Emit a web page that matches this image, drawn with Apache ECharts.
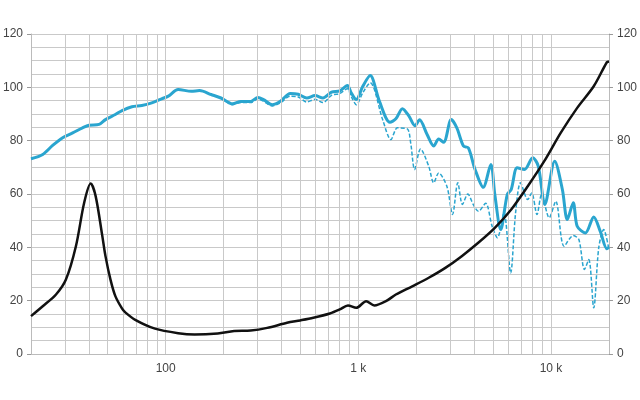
<!DOCTYPE html>
<html>
<head>
<meta charset="utf-8">
<script src="https://cdn.jsdelivr.net/npm/echarts@6/dist/echarts.min.js"></script>
<style>html,body{margin:0;padding:0;background:#fff}#c{width:640px;height:400px}</style>
</head>
<body>
<div id="c"></div>
<script>
// Frequencies (Hz) and levels
const solidFreq = [20,23,25.9,29.2,32.9,37,40,45.1,48.7,54.8,59.4,66.8,75.2,84.7,95.3,103.2,116.1,135.8,149.9,172.1,193.6,222.5,245.5,276.2,301.1,322.1,357,394,443.4,487.3,540.2,596,654.9,726,800.8,877,919.6,975.5,1055,1152,1286,1459,1566,1693,1832,1967,2078,2275,2462,2612,2773,3037,3245,3512,3726,4032,4449,4874,5110,5484,5930,6218,6676,7286,8036,8596,9291,10456,11457,12156,13049,13681,15096,16670,18022,19504,20000];
const solidVal  = [73.2,74.8,78.2,81.1,82.9,84.8,85.8,86.1,87.9,89.8,91.3,92.7,93.2,94.2,95.7,96.7,99.2,98.5,98.8,97.3,96,93.8,94.7,94.7,96.2,95.4,93.5,94.8,97.7,97.4,96,96.9,96,98.2,98.7,100.7,97.9,95.4,100.4,104.4,94.8,86.9,88.2,92,89.2,85.6,87.8,82.3,78,80.6,79.4,87.9,84.8,78,77.3,69.3,62.5,71.1,59.8,46.7,59.8,61.7,69.8,69.2,73.6,70.4,56.1,72.3,61.7,50.4,56.7,47.9,45.4,51.4,46,39.5,40];

const dashFreq = [20,23,25.9,29.2,32.9,37,40,45.1,48.7,54.8,59.4,66.8,75.2,84.7,95.3,103.2,116.1,135.8,149.9,172.1,193.6,222.5,245.5,276.2,301.1,322.1,357,394,443.4,487.3,540.2,596,654.9,726,800.8,877,919.6,975.5,1055,1152,1337,1476,1596,1796,1869,1960,2103,2320,2462,2612,2881,3083,3283,3470,3700,3952,4200,4580,4949,5269,5703,6174,6550,6948,7574,7941,8458,8937,9791,10585,11690,13049,13955,14917,15713,16670,17692,18769,20000];
const dashVal  = [73.2,74.8,78.2,81.1,82.9,84.8,85.8,86.1,87.9,89.8,91.3,92.7,93.2,94.2,95.7,96.7,99.2,98.5,98.8,97.3,96,93.5,94.3,94.3,95.6,94.8,93,94.2,96.7,96.4,94.5,95.5,94.3,97,97.7,99.5,96.5,93.5,98,101.7,87.9,80.4,84.8,84.4,79.2,69.2,76.9,70.4,64.2,67.9,62.9,52.3,64.2,56.1,60,56,53.5,56.5,47.9,43.6,52.9,30.4,52.9,64.2,57.9,60.4,52.3,59.8,51.1,57.3,40.4,44.4,42.9,31.7,35.4,17.3,39.8,46.7,39.2];

const impFreq = [20,23,26.96,30.35,34.2,37.75,40.8,43.3,46.9,48.7,51.7,54.8,59.4,61.7,69.5,88,116.1,141.3,186.3,226.7,276.2,336.5,426.4,498.9,584,711.6,800.8,883.4,975.5,1098,1211,1391,1566,1905,2320,2829,3442,4193,5110,6218,7574,9226,11230,13681,16670,19504,20000];
const impVal  = [14.2,17.9,22.3,27.9,40.4,56.7,63.9,59.2,44.2,36.7,27.9,21.7,17,15.6,12.8,9.5,7.8,7.3,7.7,8.6,8.8,9.8,11.7,12.6,13.6,15.2,16.7,18.2,17.3,19.8,18.2,19.8,22.3,25.4,28.6,32.3,36.7,41.7,47.3,54.2,62.9,72.3,82.9,92.3,100.4,109.4,109.7];

const gridFreqs = [30,40,50,60,70,80,90,100,200,300,400,500,600,700,800,900,1000,2000,3000,4000,5000,6000,7000,8000,9000,10000];
const xLabels = {100:'100',1000:'1 k',10000:'10 k'};
const yTicks = [0,20,40,60,80,100,120];

const zip = (a,b)=>a.map((f,i)=>[f,b[i]]);
const FONT = "'Liberation Sans Narrow','Liberation Sans',sans-serif";
const labelStyle = {color:'#444', fontSize:12, fontFamily:FONT};

const chart = echarts.init(document.getElementById('c'), null, {renderer:'canvas'});
chart.setOption({
  animation:false,
  backgroundColor:'#fff',
  grid:{left:28, right:28, top:34, bottom:46, containLabel:false},
  xAxis:{
    type:'log', logBase:10, min:20, max:20000,
    axisLine:{show:true, lineStyle:{color:'#bbb'}},
    axisTick:{show:false},
    splitLine:{show:false},
    axisLabel:Object.assign({margin:9, showMinLabel:false, showMaxLabel:false,
      formatter:v=>xLabels[Math.round(v)]||''}, labelStyle)
  },
  yAxis:[{
    type:'value', min:yTicks[0], max:yTicks[yTicks.length-1], interval:20, position:'left',
    axisLine:{show:true, lineStyle:{color:'#bbb'}},
    axisTick:{show:true, length:4, inside:false, lineStyle:{color:'#999'}},
    splitLine:{show:true, lineStyle:{color:'#c9c9c9', width:1}},
    minorTick:{show:false, splitNumber:4},
    minorSplitLine:{show:true, lineStyle:{color:'#c9c9c9', width:1}},
    axisLabel:Object.assign({margin:8}, labelStyle)
  },{
    type:'value', min:yTicks[0], max:yTicks[yTicks.length-1], interval:20, position:'right',
    axisLine:{show:true, lineStyle:{color:'#bbb'}},
    axisTick:{show:true, length:4, lineStyle:{color:'#999'}},
    splitLine:{show:false},
    axisLabel:Object.assign({margin:8}, labelStyle)
  }],
  series:[
    {type:'line', data:[], silent:true, z:1,
     markLine:{silent:true, symbol:['none','none'], label:{show:false}, animation:false,
       lineStyle:{color:'#c9c9c9', width:1, type:'solid'},
       emphasis:{disabled:true},
       data:gridFreqs.map(f=>({xAxis:f}))}},
    {type:'line', data:zip(dashFreq,dashVal), showSymbol:false, smooth:0.3, z:3,
     lineStyle:{color:'#2aa5cf', width:1.5, type:[4,2]}},
    {type:'line', data:zip(solidFreq,solidVal), showSymbol:false, smooth:0.3, z:4,
     lineStyle:{color:'#2aa5cf', width:3}},
    {type:'line', data:zip(impFreq,impVal), showSymbol:false, smooth:0.3, z:5,
     lineStyle:{color:'#111', width:2.5}}
  ]
});
</script>
</body>
</html>
